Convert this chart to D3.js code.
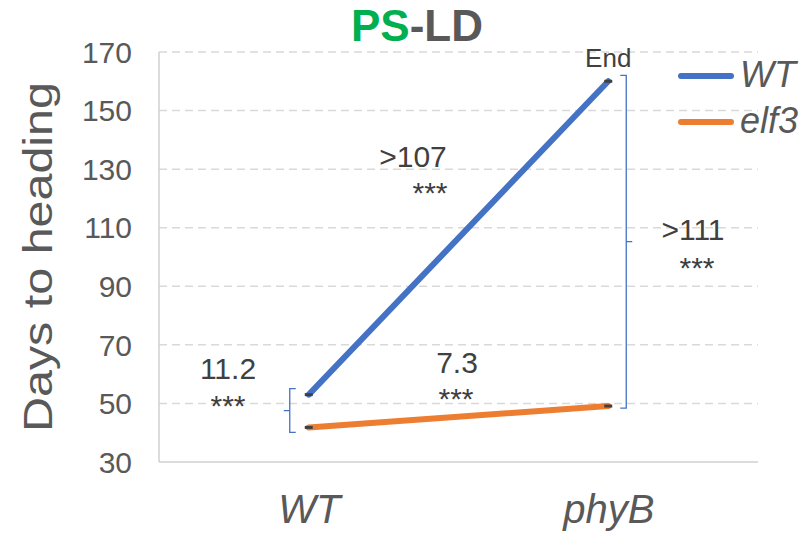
<!DOCTYPE html>
<html>
<head>
<meta charset="utf-8">
<script src="https://cdn.jsdelivr.net/npm/d3@7"></script>
<style>
  html, body { margin: 0; padding: 0; background: #fff; }
  svg { display: block; font-family: "Liberation Sans", Arial, sans-serif; }
</style>
</head>
<body>
<svg id="chart" width="806" height="539"></svg>
<script>
// Genotype backgrounds on the x axis
const categories = ["WT", "phyB"];
// Days to heading for each line
const wtValues = [53, 160];
const elf3Values = [41.8, 49.1];
const yTicks = [30, 50, 70, 90, 110, 130, 150, 170];
// Differences between lines / backgrounds with significance stars
const diffLabels = ["11.2", "7.3", ">107", ">111"];
const sigLabels = ["***", "***", "***", "***"];

const svg = d3.select("#chart");
const plot = { left: 159, right: 758, top: 52, bottom: 462 };
const font = "'Liberation Sans', Arial, sans-serif";

const x = d3.scalePoint().domain(categories).range([plot.left, plot.right]).padding(0.5);
const y = d3.scaleLinear().domain([30, 170]).range([plot.bottom, plot.top]);

const grey = "#595959";
const dark = "#404040";

// Dashed horizontal gridlines
svg.append("g")
  .selectAll("line")
  .data(yTicks.filter(d => d > 30))
  .join("line")
  .attr("x1", plot.left).attr("x2", plot.right)
  .attr("y1", d => y(d)).attr("y2", d => y(d))
  .attr("stroke", "#d9d9d9").attr("stroke-width", 1.5)
  .attr("stroke-dasharray", "8,5");

// Axis lines
svg.append("line")
  .attr("x1", plot.left).attr("x2", plot.left)
  .attr("y1", plot.top).attr("y2", plot.bottom)
  .attr("stroke", "#d0d0d0").attr("stroke-width", 1.5);
svg.append("line")
  .attr("x1", plot.left).attr("x2", plot.right)
  .attr("y1", plot.bottom).attr("y2", plot.bottom)
  .attr("stroke", "#d0d0d0").attr("stroke-width", 1.5);

// Y tick labels
const yAxis = d3.axisLeft(y).tickValues(yTicks).tickSize(0).tickPadding(0).tickFormat(d3.format("d"));
const yg = svg.append("g").attr("transform", `translate(${plot.left - 27},0)`).call(yAxis);
yg.select(".domain").remove();
yg.selectAll("text").attr("fill", grey).attr("dy", "0.34em")
  .style("font-size", "30px").style("font-family", font);

// X tick labels
const xAxis = d3.axisBottom(x).tickSize(0).tickPadding(0);
const xg = svg.append("g").attr("transform", `translate(0,${plot.bottom + 24})`).call(xAxis);
xg.select(".domain").remove();
xg.selectAll("text").attr("fill", grey).attr("dy", "0.93em")
  .style("font-size", "40px").style("font-style", "italic").style("font-family", font);

// Y axis title
svg.append("text")
  .attr("transform", `translate(52,${(plot.top + plot.bottom) / 2}) rotate(-90)`)
  .attr("text-anchor", "middle")
  .attr("textLength", 350).attr("lengthAdjust", "spacingAndGlyphs")
  .attr("fill", grey).style("font-size", "40px")
  .text("Days to heading");

// Title
const title = svg.append("text")
  .attr("x", 417).attr("y", 41)
  .attr("text-anchor", "middle")
  .style("font-size", "44px").style("font-weight", "bold");
title.append("tspan").attr("fill", "#00B050").text("PS");
title.append("tspan").attr("fill", grey).text("-LD");

// Series lines
const series = [
  { name: "WT", values: wtValues, color: "#4472C4" },
  { name: "elf3", values: elf3Values, color: "#ED7D31" }
];
const line = d3.line().x((d, i) => x(categories[i])).y(d => y(d));
series.forEach(s => {
  svg.append("path")
    .datum(s.values)
    .attr("d", line)
    .attr("fill", "none")
    .attr("stroke", s.color)
    .attr("stroke-width", 6)
    .attr("stroke-linecap", "round");
  // small dark caps at each point
  svg.append("g").selectAll("line")
    .data(s.values)
    .join("line")
    .attr("x1", (d, i) => x(categories[i]) - 4)
    .attr("x2", (d, i) => x(categories[i]) + 4)
    .attr("y1", d => y(d)).attr("y2", d => y(d))
    .attr("stroke", dark).attr("stroke-width", 3);
});

// Significance brackets
const bracketColor = "#4472C4";
function bracket(xPos, yTop, yBot, dir) {
  // dir = -1: arms point right, centre tick left; dir = +1: arms point left, centre tick right
  const arm = 6 * -dir;
  const mid = (yTop + yBot) / 2;
  const p = d3.path();
  p.moveTo(xPos + arm, yTop);
  p.lineTo(xPos, yTop);
  p.lineTo(xPos, yBot);
  p.lineTo(xPos + arm, yBot);
  p.moveTo(xPos, mid);
  p.lineTo(xPos + 6 * dir, mid);
  svg.append("path").attr("d", p.toString())
    .attr("fill", "none").attr("stroke", bracketColor).attr("stroke-width", 1.3);
}
bracket(x("WT") - 19, y(wtValues[0]) - 6, y(elf3Values[0]) + 5, -1);
bracket(x("phyB") + 18, y(wtValues[1]) - 6, y(elf3Values[1]) + 2, 1);

// Difference annotations: [label centre x, label baseline, stars centre x, stars baseline]
const noteLayout = [
  [228, 379, 228, 416],
  [457, 373, 456, 409],
  [413, 167, 430, 203],
  [693, 240, 697, 278]
];
diffLabels.forEach((lab, i) => {
  const [lx, ly, sx, sy] = noteLayout[i];
  svg.append("text").attr("x", lx).attr("y", ly)
    .attr("text-anchor", "middle").attr("fill", dark)
    .style("font-size", "30px").text(lab);
  svg.append("text").attr("x", sx).attr("y", sy)
    .attr("text-anchor", "middle").attr("fill", dark)
    .style("font-size", "30px").text(sigLabels[i]);
});

// "End" marker above the WT line's last point
svg.append("text").attr("x", x("phyB")).attr("y", 67)
  .attr("text-anchor", "middle").attr("fill", dark)
  .style("font-size", "26px").text("End");

// Legend
const legend = svg.append("g");
series.forEach((s, i) => {
  const ly = 76 + i * 46;
  legend.append("line")
    .attr("x1", 681).attr("x2", 731)
    .attr("y1", ly).attr("y2", ly)
    .attr("stroke", s.color).attr("stroke-width", 6).attr("stroke-linecap", "round");
  legend.append("text").attr("x", 740).attr("y", ly + 11)
    .attr("fill", grey).style("font-size", "36px").style("font-style", "italic")
    .text(s.name);
});
</script>
</body>
</html>
